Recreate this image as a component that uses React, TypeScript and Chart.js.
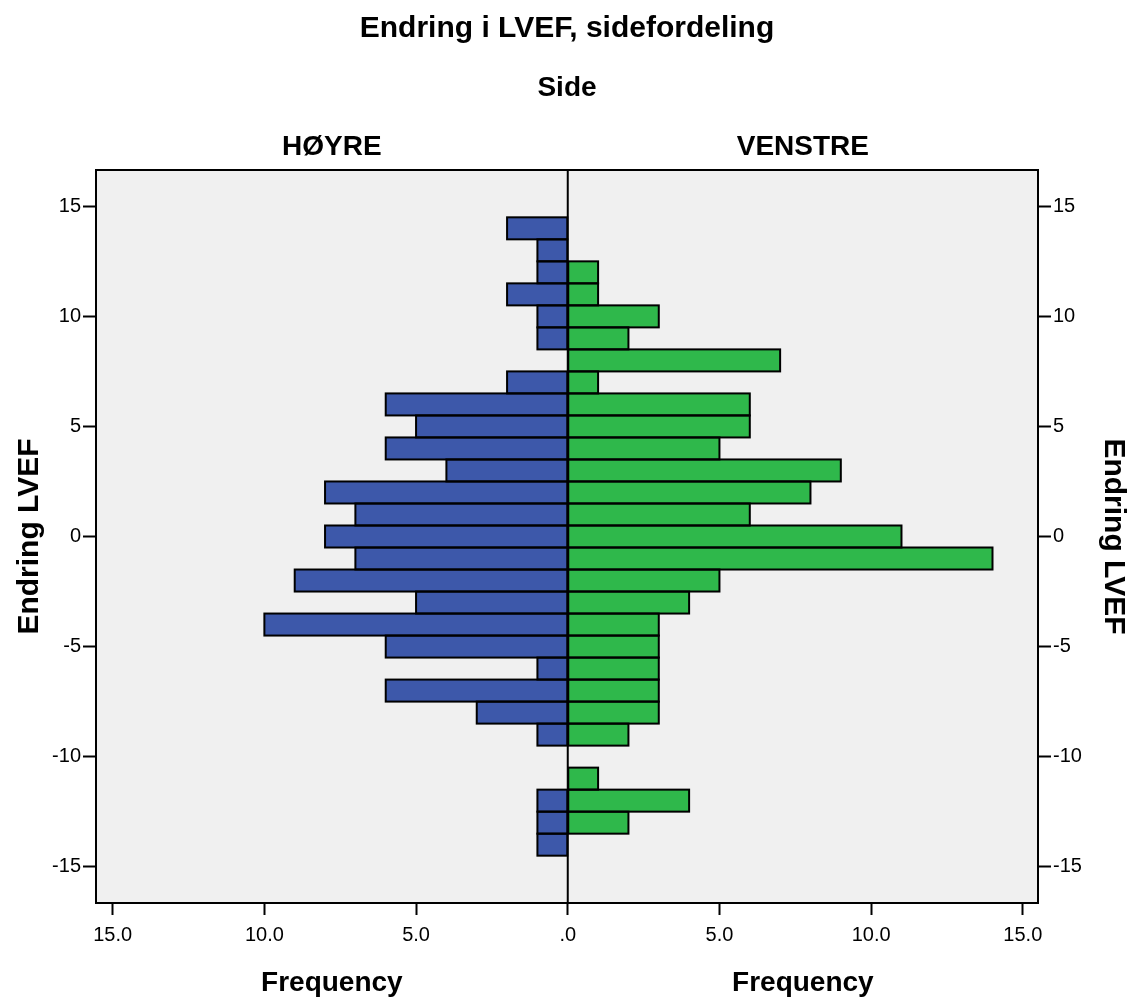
import React, { useEffect, useRef } from "react";
import { Chart, registerables } from "chart.js";

Chart.register(...registerables);

// Bin centres of "Endring LVEF" (bin width 1)
const lvefBins = [14, 13, 12, 11, 10, 9, 8, 7, 6, 5, 4, 3, 2, 1, 0, -1, -2, -3, -4, -5, -6, -7, -8, -9, -10, -11, -12, -13, -14];
// Frequency per bin, side HØYRE (drawn to the left)
const hoyreCounts = [2, 1, 1, 2, 1, 1, 0, 2, 6, 5, 6, 4, 8, 7, 8, 7, 9, 5, 10, 6, 1, 6, 3, 1, 0, 0, 1, 1, 1];
// Frequency per bin, side VENSTRE (drawn to the right)
const venstreCounts = [0, 0, 1, 1, 3, 2, 7, 1, 6, 6, 5, 9, 8, 6, 11, 14, 5, 4, 3, 3, 3, 3, 3, 2, 0, 1, 4, 2, 0];

const yTickValues = [-15, -10, -5, 0, 5, 10, 15];
const xTickValues = [-15, -10, -5, 0, 5, 10, 15];

const mainTitle = "Endring i LVEF, sidefordeling";
const panelVariable = "Side";
const leftPanelLabel = "HØYRE";
const rightPanelLabel = "VENSTRE";
const yAxisTitle = "Endring LVEF";
const xAxisTitle = "Frequency";

const FONT = '"Liberation Sans", Arial, Helvetica, sans-serif';

export default function App() {
  const canvasRef = useRef<HTMLCanvasElement | null>(null);

  useEffect(() => {
    const canvas = canvasRef.current;
    if (!canvas) return;

    const frame = {
      id: "spssFrame",
      beforeDraw(chart: any) {
        const { ctx, chartArea } = chart;
        ctx.save();
        ctx.fillStyle = "#F0F0F0";
        ctx.fillRect(chartArea.left, chartArea.top, chartArea.right - chartArea.left, chartArea.bottom - chartArea.top);
        ctx.restore();
      },
      beforeDatasetsDraw(chart: any) {
        const { ctx, chartArea } = chart;
        const x0 = chart.scales.x.getPixelForValue(0);
        ctx.save();
        ctx.strokeStyle = "#000";
        ctx.lineWidth = 2;
        ctx.beginPath();
        ctx.moveTo(x0, chartArea.top);
        ctx.lineTo(x0, chartArea.bottom);
        ctx.stroke();
        ctx.restore();
      },
      afterDatasetsDraw(chart: any) {
        const { ctx } = chart;
        ctx.save();
        ctx.strokeStyle = "#000";
        ctx.lineWidth = 2;
        chart.data.datasets.forEach((_ds: any, di: number) => {
          const meta = chart.getDatasetMeta(di);
          meta.data.forEach((el: any) => {
            const p = el.getProps(["x", "y", "base", "height"], true);
            if (p.x == null || isNaN(p.x) || Math.abs(p.x - p.base) < 0.5) return;
            const left = Math.min(p.x, p.base);
            const w = Math.abs(p.x - p.base);
            ctx.strokeRect(left, p.y - p.height / 2, w, p.height);
          });
        });
        ctx.restore();
      },
      afterDraw(chart: any) {
        const { ctx, chartArea } = chart;
        const x0 = chart.scales.x.getPixelForValue(0);
        ctx.save();
        ctx.strokeStyle = "#000";
        ctx.lineWidth = 2;
        ctx.strokeRect(chartArea.left, chartArea.top, chartArea.right - chartArea.left, chartArea.bottom - chartArea.top);
        ctx.fillStyle = "#000";
        ctx.textAlign = "center";
        ctx.textBaseline = "alphabetic";
        const cx = (chartArea.left + chartArea.right) / 2;
        const lx = (chartArea.left + x0) / 2;
        const rx = (x0 + chartArea.right) / 2;
        ctx.font = `bold 30px ${FONT}`;
        ctx.fillText(mainTitle, cx, 37);
        ctx.font = `bold 28px ${FONT}`;
        ctx.fillText(panelVariable, cx, 96);
        ctx.fillText(leftPanelLabel, lx, 155);
        ctx.fillText(rightPanelLabel, rx, 155);
        ctx.fillText(xAxisTitle, lx, 991);
        ctx.fillText(xAxisTitle, rx, 991);
        ctx.restore();
      },
    };

    const hoyreData = lvefBins.map((b, i) => ({ x: hoyreCounts[i] ? -hoyreCounts[i] : null, y: b }));
    const venstreData = lvefBins.map((b, i) => ({ x: venstreCounts[i] ? venstreCounts[i] : null, y: b }));

    const yAxisCommon = {
      type: "linear",
      min: -16.65,
      max: 16.65,
      offset: false,
      afterBuildTicks: (scale: any) => {
        scale.ticks = yTickValues.map((v) => ({ value: v }));
      },
      grid: { offset: false, drawOnChartArea: false, drawTicks: true, tickLength: 13, tickColor: "#000", tickWidth: 2 },
      border: { display: true, color: "#000", width: 2 },
      ticks: { color: "#000", font: { family: FONT, size: 20 }, padding: 2, callback: (v: any) => String(v) },
    };

    const chart = new Chart(canvas, {
      type: "bar",
      data: {
        datasets: [
          {
            label: leftPanelLabel,
            data: hoyreData as any,
            yAxisID: "y",
            backgroundColor: "#3D58AA",
            borderWidth: 0,
            barPercentage: 1,
            categoryPercentage: 1,
            grouped: false,
          } as any,
          {
            label: rightPanelLabel,
            data: venstreData as any,
            yAxisID: "y",
            backgroundColor: "#2FB84B",
            borderWidth: 0,
            barPercentage: 1,
            categoryPercentage: 1,
            grouped: false,
          } as any,
        ],
      },
      options: {
        animation: false,
        responsive: false,
        indexAxis: "y",
        layout: { padding: { top: 170, left: 0, right: 0, bottom: 0 } },
        plugins: { legend: { display: false }, tooltip: { enabled: false }, title: { display: false } },
        scales: {
          x: {
            type: "linear",
            position: "bottom",
            min: -15.55,
            max: 15.5,
            offset: false,
            afterBuildTicks: (scale: any) => {
              scale.ticks = xTickValues.map((v) => ({ value: v }));
            },
            afterFit: (scale: any) => {
              scale.height = 94;
            },
            grid: { offset: false, drawOnChartArea: false, drawTicks: true, tickLength: 12, tickColor: "#000", tickWidth: 2 },
            border: { display: true, color: "#000", width: 2 },
            ticks: {
              color: "#000",
              font: { family: FONT, size: 20 },
              padding: 8,
              maxRotation: 0,
              autoSkip: false,
              callback: (v: any) => {
                const a = Math.abs(Number(v));
                return a === 0 ? ".0" : a.toFixed(1);
              },
            },
          },
          y: {
            ...yAxisCommon,
            position: "left",
            afterFit: (scale: any) => {
              scale.width = 96;
            },
            title: { display: true, text: yAxisTitle, color: "#000", font: { family: FONT, size: 30, weight: "bold" }, padding: { top: 12, bottom: 0 } },
          },
          y2: {
            ...yAxisCommon,
            position: "right",
            afterFit: (scale: any) => {
              scale.width = 95;
            },
            title: { display: true, text: yAxisTitle, color: "#000", font: { family: FONT, size: 30, weight: "bold" }, padding: { top: 2, bottom: 0 } },
          },
        } as any,
      },
      plugins: [frame],
    } as any);

    return () => {
      chart.destroy();
    };
  }, []);

  return (
    <div style={{ position: "absolute", left: 0, top: 0, width: 1133, height: 997, background: "#fff" }}>
      <canvas ref={canvasRef} width={1133} height={997} style={{ display: "block", width: 1133, height: 997 }} />
    </div>
  );
}
